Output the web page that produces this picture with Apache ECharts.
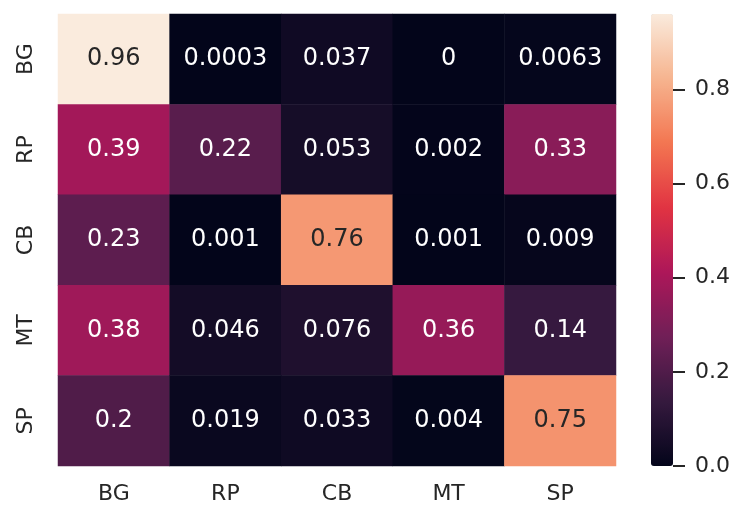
<!DOCTYPE html>
<html>
<head>
<meta charset="utf-8">
<script src="https://cdn.jsdelivr.net/npm/echarts@6/dist/echarts.min.js"></script>
<style>
html,body{margin:0;padding:0;background:#fff;}
#chart{width:744px;height:525px;}
</style>
</head>
<body>
<div id="chart"></div>
<script>
const xCategories = ['BG', 'RP', 'CB', 'MT', 'SP'];
const yCategories = ['BG', 'RP', 'CB', 'MT', 'SP'];
const rowBG = [0.96, 0.0003, 0.037, 0, 0.0063];
const rowRP = [0.39, 0.22, 0.053, 0.002, 0.33];
const rowCB = [0.23, 0.001, 0.76, 0.001, 0.009];
const rowMT = [0.38, 0.046, 0.076, 0.36, 0.14];
const rowSP = [0.2, 0.019, 0.033, 0.004, 0.75];
const colorbarTicks = [0, 0.2, 0.4, 0.6, 0.8];
const valueMin = 0;
const valueMax = 0.96;

const rocket = ['#03051a', '#35193e', '#701f57', '#ad1759', '#e13342', '#f37651', '#f6b48f', '#faebdd'];
const textColor = '#262626';
const font = 'DejaVu Sans';

const rows = [rowBG, rowRP, rowCB, rowMT, rowSP];
const data = [];
rows.forEach((row, yi) => {
  row.forEach((v, xi) => {
    const light = (v - valueMin) / (valueMax - valueMin) > 0.6;
    data.push({
      value: [xi, yi, v],
      label: { color: light ? textColor : '#ffffff' }
    });
  });
});

const barLeft = 651, barWidth = 22, barTop = 14, barHeight = 452;
const tickLen = 12;

const colorbarAxisBase = {
  gridIndex: 1, type: 'value', min: valueMin, max: valueMax, z: 10,
  splitLine: { show: false }
};

const chart = echarts.init(document.getElementById('chart'), null, { renderer: 'canvas' });
chart.setOption({
  backgroundColor: '#ffffff',
  animation: false,
  textStyle: { fontFamily: font },
  grid: [
    { left: 58, top: 14, width: 558, height: 452 },
    { left: barLeft + barWidth, top: barTop, width: tickLen, height: barHeight }
  ],
  xAxis: [
    {
      gridIndex: 0, type: 'category', data: xCategories, position: 'bottom',
      axisLine: { show: false }, axisTick: { show: false }, splitLine: { show: false },
      axisLabel: { color: textColor, fontSize: 22, fontFamily: font, margin: 17 }
    },
    {
      gridIndex: 1, type: 'value', show: false, min: 0, max: 1
    }
  ],
  yAxis: [
    {
      gridIndex: 0, type: 'category', data: yCategories, inverse: true,
      axisLine: { show: false }, axisTick: { show: false }, splitLine: { show: false },
      axisLabel: { color: textColor, fontSize: 22, fontFamily: font, rotate: 90, margin: 21 }
    },
    Object.assign({}, colorbarAxisBase, {
      position: 'left',
      axisLine: { show: true, lineStyle: { color: 'rgba(0,0,0,0)', width: 0 } },
      axisTick: { show: true, inside: true, length: tickLen, customValues: colorbarTicks,
                  lineStyle: { color: textColor, width: 2 } },
      axisLabel: { show: false }
    }),
    Object.assign({}, colorbarAxisBase, {
      position: 'right',
      axisLine: { show: false },
      axisTick: { show: false },
      axisLabel: {
        color: textColor, fontSize: 22, fontFamily: font, margin: 10,
        customValues: colorbarTicks,
        formatter: v => Number(v).toFixed(1)
      }
    })
  ],
  visualMap: {
    type: 'continuous',
    seriesIndex: 0,
    min: valueMin, max: valueMax,
    calculable: false,
    hoverLink: false,
    orient: 'vertical',
    left: barLeft, top: barTop,
    itemWidth: barWidth, itemHeight: barHeight,
    padding: 0,
    text: null,
    showLabel: false,
    inRange: { color: rocket }
  },
  series: [{
    type: 'heatmap',
    xAxisIndex: 0, yAxisIndex: 0,
    data: data,
    itemStyle: { borderWidth: 0 },
    label: {
      show: true, fontSize: 24, fontFamily: font,
      formatter: p => String(p.value[2])
    },
    emphasis: { disabled: true }
  }]
});
</script>
</body>
</html>
